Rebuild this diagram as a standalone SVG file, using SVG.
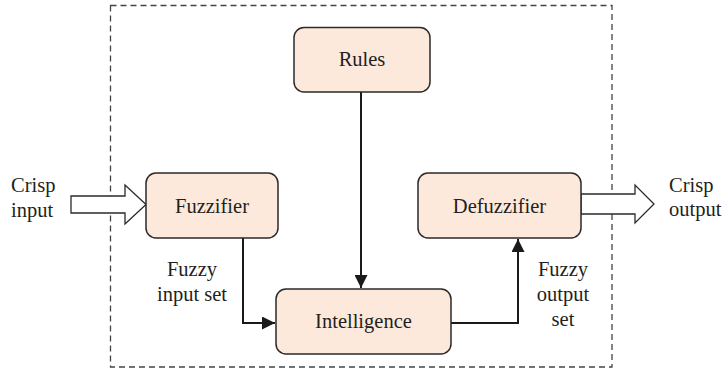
<svg xmlns="http://www.w3.org/2000/svg" width="723" height="372" viewBox="0 0 723 372">
  <style>
    .box { fill: #fde9dc; stroke: #2a2a2a; stroke-width: 1.5; }
    .label { font-family: 'Liberation Serif', 'Times New Roman', serif; font-size: 20.5px; fill: #231f20; }
    .mid { text-anchor: middle; }
    .wire { fill: none; stroke: #1a1a1a; stroke-width: 2; }
    .hollow { fill: #ffffff; stroke: #2a2a2a; stroke-width: 1.3; stroke-linejoin: miter; }
    .frame { fill: none; stroke: #444444; stroke-width: 1.3; stroke-dasharray: 6 4; }
  </style>
  <defs>
    <marker id="arrow" viewBox="0 0 13 13" refX="13" refY="6.5" markerWidth="13" markerHeight="13" markerUnits="userSpaceOnUse" orient="auto">
      <path d="M0,0 L13,6.5 L0,13 Z" fill="#1a1a1a"/>
    </marker>
  </defs>

  <rect width="723" height="372" fill="#ffffff"/>

  <!-- system boundary -->
  <rect class="frame" x="110.5" y="5.5" width="501.5" height="361.5"/>

  <!-- flow connectors -->
  <g id="connectors">
    <path class="wire" d="M243,238 V323 H275" marker-end="url(#arrow)"/>
    <path class="wire" d="M361,92 V288" marker-end="url(#arrow)"/>
    <path class="wire" d="M451,323 H518 V239" marker-end="url(#arrow)"/>
    <!-- crisp input / output block arrows -->
    <path class="hollow" d="M71,196 H125 V185 L146,204.5 L125,224 V213 H71 Z"/>
    <path class="hollow" d="M581,194 H635 V185 L654,204 L635,223 V214 H581 Z"/>
  </g>

  <g id="rules">
    <rect class="box" x="294" y="27.5" width="136" height="64.5" rx="10"/>
    <text class="label mid" x="362" y="66">Rules</text>
  </g>

  <g id="fuzzifier">
    <rect class="box" x="146" y="173" width="132" height="65" rx="10"/>
    <text class="label mid" x="212" y="212.5">Fuzzifier</text>
  </g>

  <g id="defuzzifier">
    <rect class="box" x="418" y="173" width="163" height="65" rx="10"/>
    <text class="label mid" x="499.5" y="212.5">Defuzzifier</text>
  </g>

  <g id="intelligence">
    <rect class="box" x="276" y="289" width="175" height="65" rx="10"/>
    <text class="label mid" x="363.5" y="328">Intelligence</text>
  </g>

  <g id="io-labels">
    <text class="label" x="11" y="192">Crisp</text>
    <text class="label" x="11" y="217">input</text>
    <text class="label" x="669" y="192">Crisp</text>
    <text class="label" x="669" y="216">output</text>
    <text class="label mid" x="192" y="276">Fuzzy</text>
    <text class="label mid" x="192" y="301">input set</text>
    <text class="label mid" x="563" y="276">Fuzzy</text>
    <text class="label mid" x="563" y="301">output</text>
    <text class="label mid" x="563" y="326">set</text>
  </g>
</svg>
